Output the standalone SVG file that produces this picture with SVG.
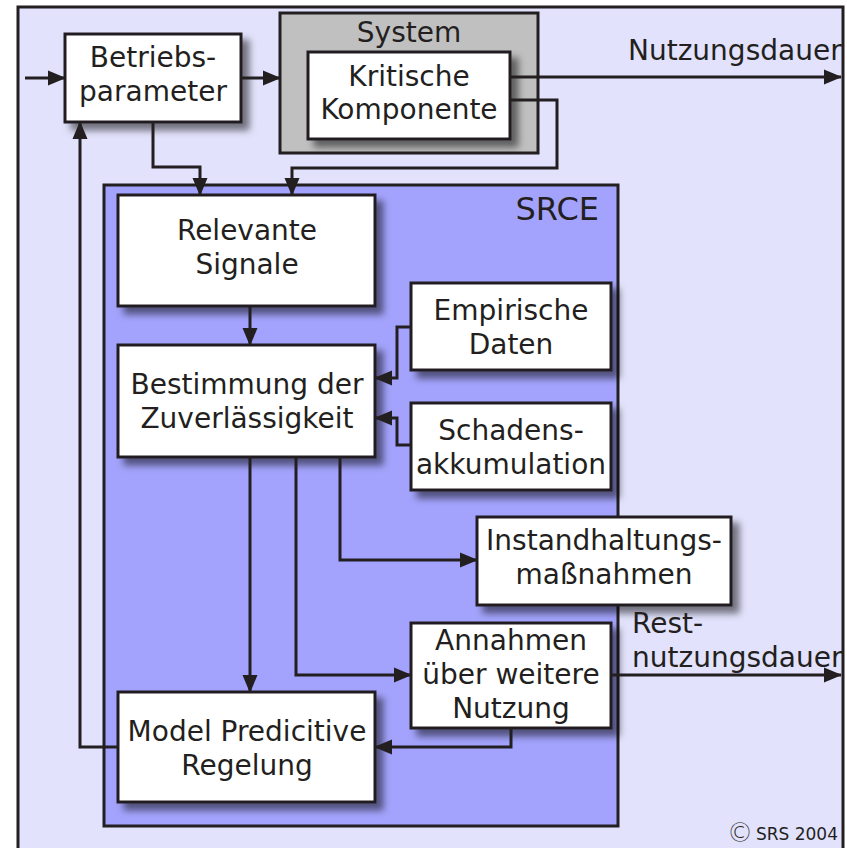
<svg xmlns="http://www.w3.org/2000/svg" width="847" height="848" viewBox="0 0 847 848">
<defs>
<filter id="sh" x="-20%" y="-20%" width="150%" height="150%">
<feDropShadow dx="7" dy="7" stdDeviation="3.5" flood-color="#000" flood-opacity="0.5"/>
</filter>
<marker id="ar" markerUnits="userSpaceOnUse" markerWidth="18" markerHeight="18" viewBox="0 0 18 18" refX="17" refY="9" orient="auto">
<path d="M0,1.5 L18,9 L0,16.5 Z" fill="#231f20"/>
</marker>
</defs>
<style>
.box{fill:#fff;stroke:#231f20;stroke-width:3;}
.t{font-family:"DejaVu Sans",Verdana,sans-serif;font-size:28px;fill:#231f20;text-anchor:middle;}
.l{font-family:"DejaVu Sans",Verdana,sans-serif;font-size:28px;fill:#231f20;}
.c{fill:none;stroke:#231f20;stroke-width:3;}
.ca{fill:none;stroke:#231f20;stroke-width:3;marker-end:url(#ar);}
</style>
<rect x="18" y="7" width="825" height="860" fill="#e2e2fc" stroke="#231f20" stroke-width="3"/>
<g id="system">
<rect x="280" y="13" width="258" height="140" fill="#c0c0c0" stroke="#231f20" stroke-width="3"/>
<text class="t" x="409" y="42">System</text>
</g>
<g id="srce">
<rect x="104" y="185" width="514" height="641" fill="#a3a3fd" stroke="#231f20" stroke-width="3"/>
<text class="l" x="599" y="220" style="font-size:32px;text-anchor:end">SRCE</text>
</g>
<g id="betriebsparameter">
<rect class="box" x="65" y="34" width="176" height="88" filter="url(#sh)"/>
<text class="t" x="153" y="67">Betriebs-</text>
<text class="t" x="153" y="101">parameter</text>
</g>
<g id="kritische">
<rect class="box" x="308" y="52" width="202" height="87" filter="url(#sh)"/>
<text class="t" x="409" y="86">Kritische</text>
<text class="t" x="409" y="119">Komponente</text>
</g>
<g id="relevante">
<rect class="box" x="118" y="195" width="257" height="111" filter="url(#sh)"/>
<text class="t" x="247" y="240">Relevante</text>
<text class="t" x="247" y="274">Signale</text>
</g>
<g id="bestimmung">
<rect class="box" x="118" y="345" width="257" height="112" filter="url(#sh)"/>
<text class="t" x="247" y="394">Bestimmung der</text>
<text class="t" x="247" y="428">Zuverlässigkeit</text>
</g>
<g id="empirische">
<rect class="box" x="411" y="283" width="200" height="87" filter="url(#sh)"/>
<text class="t" x="511" y="320">Empirische</text>
<text class="t" x="511" y="354">Daten</text>
</g>
<g id="schadens">
<rect class="box" x="411" y="403" width="200" height="87" filter="url(#sh)"/>
<text class="t" x="511" y="440">Schadens-</text>
<text class="t" x="511" y="474">akkumulation</text>
</g>
<g id="instand">
<rect class="box" x="477" y="517" width="254" height="88" filter="url(#sh)"/>
<text class="t" x="604" y="550">Instandhaltungs-</text>
<text class="t" x="604" y="584">maßnahmen</text>
</g>
<g id="annahmen">
<rect class="box" x="411" y="623" width="200" height="105" filter="url(#sh)"/>
<text class="t" x="511" y="650">Annahmen</text>
<text class="t" x="511" y="684">über weitere</text>
<text class="t" x="511" y="718">Nutzung</text>
</g>
<g id="mpr">
<rect class="box" x="118" y="692" width="257" height="110" filter="url(#sh)"/>
<text class="t" x="247" y="741">Model Predicitive</text>
<text class="t" x="247" y="775">Regelung</text>
</g>
<g id="connectors">
<path class="ca" d="M25,78 H65"/>
<path class="ca" d="M241,78 H280"/>
<path class="ca" d="M510,77 H841"/>
<path class="ca" d="M510,100 H557 V168 H292 V195"/>
<path class="ca" d="M153,122 V167 H200 V195"/>
<path class="ca" d="M250,306 V345"/>
<path class="ca" d="M411,327 H397 V378 H375"/>
<path class="ca" d="M411,445 H397 V418 H375"/>
<path class="ca" d="M250,457 V692"/>
<path class="ca" d="M296,457 V675 H411"/>
<path class="ca" d="M340,457 V560 H477"/>
<path class="ca" d="M611,675 H841"/>
<path class="ca" d="M511,728 V747 H375"/>
<path class="ca" d="M118,747 H80 V122"/>
</g>
<text class="l" x="628" y="60">Nutzungsdauer</text>
<text class="l" x="632" y="633">Rest-</text>
<text class="l" x="632" y="667">nutzungsdauer</text>
<text class="l" x="727" y="842" style="font-size:26px;font-weight:200">©</text>
<text class="l" x="838" y="840" style="font-size:17px;text-anchor:end">SRS 2004</text>
</svg>
